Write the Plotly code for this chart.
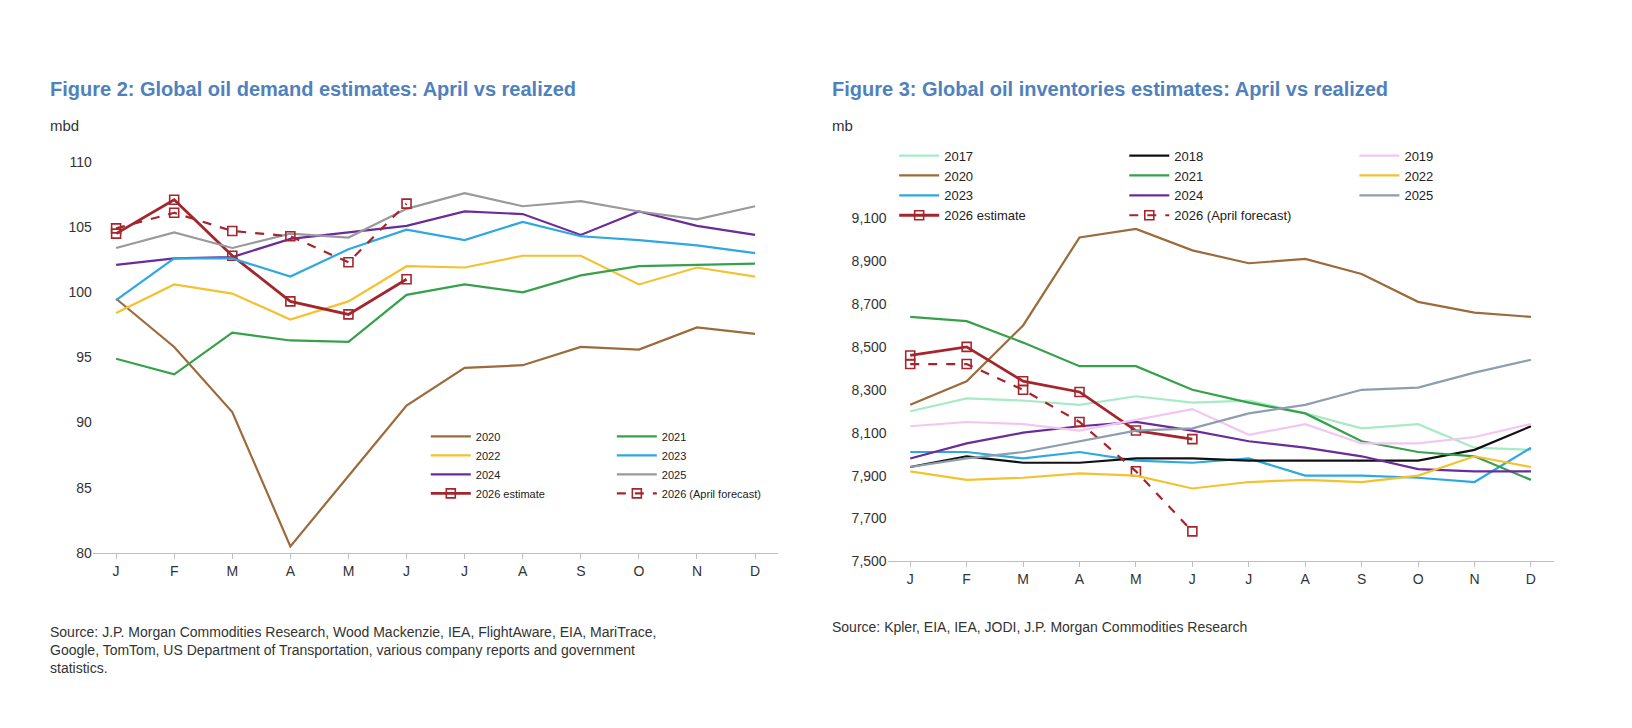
import plotly.graph_objects as go

tick_text = ["J","F","M","A","M","J","J","A","S","O","N","D"]

# Figure 2: demand (mbd)
d2020 = [99.5,95.8,90.8,80.5,85.9,91.3,94.2,94.4,95.8,95.6,97.3,96.8]
d2021 = [94.9,93.7,96.9,96.3,96.2,99.8,100.6,100.0,101.3,102.0,102.1,102.2]
d2022 = [98.4,100.6,99.9,97.9,99.3,102.0,101.9,102.8,102.8,100.6,101.9,101.2]
d2023 = [99.4,102.6,102.6,101.2,103.3,104.8,104.0,105.4,104.3,104.0,103.6,103.0]
d2024 = [102.1,102.6,102.7,104.1,104.6,105.1,106.2,106.0,104.4,106.2,105.1,104.4]
d2025 = [103.4,104.6,103.4,104.5,104.2,106.4,107.6,106.6,107.0,106.2,105.6,106.6]
d2026_est = [104.5,107.1,102.8,99.3,98.3,101.0]
d2026_apr = [104.9,106.1,104.7,104.3,102.3,106.8]

# Figure 3: inventories (mb)
i2017 = [8200,8260,8250,8230,8270,8240,8250,8190,8120,8140,8030,8020]
i2018 = [7940,7990,7960,7960,7980,7980,7970,7970,7970,7970,8020,8130]
i2019 = [8130,8150,8140,8110,8160,8210,8090,8140,8050,8050,8080,8140]
i2020 = [8230,8340,8600,9010,9050,8950,8890,8910,8840,8710,8660,8640]
i2021 = [8640,8620,8520,8410,8410,8300,8240,8190,8060,8010,7990,7880]
i2022 = [7920,7880,7890,7910,7900,7840,7870,7880,7870,7900,7990,7940]
i2023 = [8010,8010,7980,8010,7970,7960,7980,7900,7900,7890,7870,8030]
i2024 = [7980,8050,8100,8130,8150,8110,8060,8030,7990,7930,7920,7920]
i2025 = [7940,7980,8010,8060,8110,8120,8190,8230,8300,8310,8380,8440]
i2026_est = [8460,8500,8340,8290,8110,8070]
i2026_apr = [8420,8420,8300,8150,7920,7640]
inv_ticks = [7500,7700,7900,8100,8300,8500,8700,8900,9100]

C = dict(y2017="#a6ebc3", y2018="#111111", y2019="#f3c6f1", y2020="#9c6b3c",
         y2021="#36a14b", y2022="#f2c230", y2023="#2ea8e0", y2024="#6a2c9a",
         y2025="#9a9a9a", y2025r="#8e9db0", y2026="#a4262c")

x = list(range(12))
fig = go.Figure()

def add(xa, ya, y, name, color, legend, dash="solid", marker=False, width=2.2):
    fig.add_trace(go.Scatter(
        x=x[:len(y)], y=y, name=name, xaxis=xa, yaxis=ya, legend=legend,
        mode="lines+markers" if marker else "lines",
        line=dict(color=color, width=width, dash=dash),
        marker=dict(symbol="square-open", size=9, color=color, line=dict(width=1.6)) if marker else None,
    ))

add("x","y",d2020,"2020",C["y2020"],"legend")
add("x","y",d2022,"2022",C["y2022"],"legend")
add("x","y",d2024,"2024",C["y2024"],"legend")
add("x","y",d2026_est,"2026 estimate",C["y2026"],"legend",marker=True,width=2.8)
add("x","y",d2021,"2021",C["y2021"],"legend2")
add("x","y",d2023,"2023",C["y2023"],"legend2")
add("x","y",d2025,"2025",C["y2025"],"legend2")
add("x","y",d2026_apr,"2026 (April forecast)",C["y2026"],"legend2",dash="dash",marker=True)

add("x2","y2",i2017,"2017",C["y2017"],"legend3")
add("x2","y2",i2020,"2020",C["y2020"],"legend3")
add("x2","y2",i2023,"2023",C["y2023"],"legend3")
add("x2","y2",i2026_est,"2026 estimate",C["y2026"],"legend3",marker=True,width=2.8)
add("x2","y2",i2018,"2018",C["y2018"],"legend4")
add("x2","y2",i2021,"2021",C["y2021"],"legend4")
add("x2","y2",i2024,"2024",C["y2024"],"legend4")
add("x2","y2",i2026_apr,"2026 (April forecast)",C["y2026"],"legend4",dash="dash",marker=True)
add("x2","y2",i2019,"2019",C["y2019"],"legend5")
add("x2","y2",i2022,"2022",C["y2022"],"legend5")
add("x2","y2",i2025,"2025",C["y2025r"],"legend5")

font = "Liberation Sans, Arial, sans-serif"
xcommon = dict(tickmode="array", tickvals=x, ticktext=tick_text, showgrid=False,
               zeroline=False, showline=True, linecolor="#bfbfbf", linewidth=1,
               ticks="outside", ticklen=5, tickcolor="#bfbfbf",
               tickfont=dict(size=14, color="#333"), range=[-0.4, 11.4])
ycommon = dict(showgrid=False, zeroline=False, showline=False, tickfont=dict(size=14, color="#333"))

leg = lambda xx, yy, size: dict(x=xx, y=yy, xanchor="left", yanchor="top", xref="paper", yref="paper",
                                bgcolor="rgba(0,0,0,0)", font=dict(size=size, family=font, color="#222"),
                                tracegroupgap=0, itemwidth=40, orientation="v")

fig.update_layout(
    width=1632, height=728, paper_bgcolor="white", plot_bgcolor="white",
    margin=dict(l=0, r=0, t=0, b=0), font=dict(family=font),
    xaxis=dict(domain=[0.052, 0.472], anchor="y", **xcommon),
    yaxis=dict(domain=[0.246, 0.795], range=[80, 110], dtick=5, anchor="x", **ycommon),
    xaxis2=dict(domain=[0.539, 0.947], anchor="y2", **xcommon),
    yaxis2=dict(domain=[0.234, 0.716], range=[7500, 9100], tickmode="array", tickvals=inv_ticks,
                tickformat=",", anchor="x2", **ycommon),
    legend=leg(0.256, 0.43, 11),
    legend2=leg(0.37, 0.43, 11),
    legend3=leg(0.543, 0.825, 13),
    legend4=leg(0.684, 0.825, 13),
    legend5=leg(0.825, 0.825, 13),
)

ann = [
    dict(x=40, y=75, text="<b>Figure 2: Global oil demand estimates: April vs realized</b>", size=20, color="#4f81bd"),
    dict(x=822, y=75, text="<b>Figure 3: Global oil inventories estimates: April vs realized</b>", size=20, color="#4f81bd"),
    dict(x=40, y=112, text="mbd", size=15, color="#333"),
    dict(x=822, y=112, text="mb", size=15, color="#333"),
    dict(x=40, y=648, text="Source: J.P. Morgan Commodities Research, Wood Mackenzie, IEA, FlightAware, EIA, MariTrace,<br>Google, TomTom, US Department of Transportation, various company reports and government<br>statistics.", size=14, color="#333"),
    dict(x=822, y=625, text="Source: Kpler, EIA, IEA, JODI, J.P. Morgan Commodities Research", size=14, color="#333"),
]
for a in ann:
    fig.add_annotation(x=a["x"]/1632, y=1 - a["y"]/728, xref="paper", yref="paper",
                       xanchor="left", yanchor="middle", align="left", showarrow=False,
                       text=a["text"], font=dict(size=a["size"], color=a["color"], family=font))

fig.write_html("out.html")
